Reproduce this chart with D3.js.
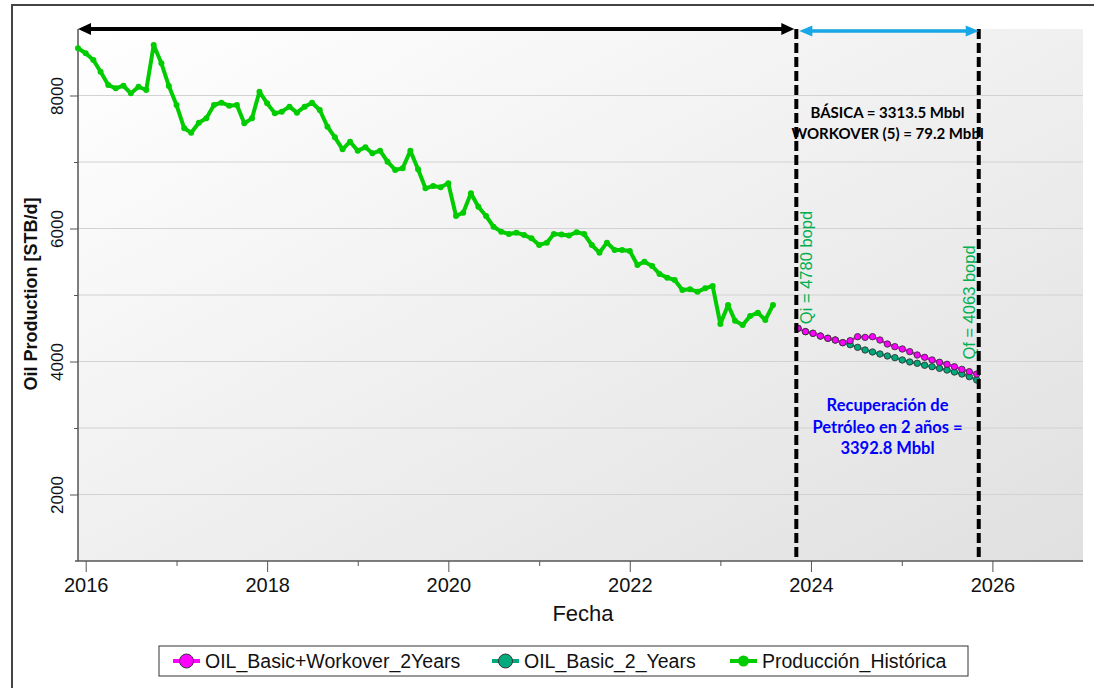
<!DOCTYPE html>
<html><head><meta charset="utf-8">
<script src="https://cdn.jsdelivr.net/npm/d3@7"></script>
<style>
html,body{margin:0;padding:0;background:#fff;}
svg{display:block;font-family:"Liberation Sans",Arial,sans-serif;}
</style></head><body>
<svg id="chart" width="1094" height="688"></svg>
<script>
// ---------- data ----------
const histStart = "2015-12-01";           // first monthly point
const histValues = [
  8710, 8635, 8534, 8358, 8158, 8108, 8147, 8033, 8132, 8083,
  8759, 8484, 8143, 7857, 7507, 7441, 7591, 7657, 7857, 7892,
  7847, 7857, 7581, 7657, 8057, 7882, 7732, 7757, 7832, 7742,
  7832, 7892, 7782, 7531, 7371, 7191, 7306, 7170, 7221, 7130,
  7170, 7005, 6880, 6905, 7170, 6890, 6604, 6639, 6619, 6679,
  6188, 6238, 6529, 6328, 6188, 6027, 5952, 5917, 5937, 5902,
  5852, 5752, 5787, 5917, 5910, 5895, 5945, 5917, 5752, 5637,
  5787, 5677, 5677, 5662, 5451, 5501, 5436, 5316, 5261, 5226,
  5075, 5085, 5050, 5100, 5135, 4564, 4850, 4614, 4549, 4684,
  4734, 4624, 4850
];
const fcStart = "2023-11-10";             // first forecast point (30-day steps)
const fcStepDays = 30;
const periodStart = "2023-11-03";         // dashed marker lines
const periodEnd = "2025-11-07";
const basicWorkover = [
  4499, 4449, 4424, 4383, 4349, 4323, 4283, 4313, 4373, 4363,
  4373, 4323, 4263, 4223, 4188, 4148, 4098, 4063, 4023, 3988,
  3958, 3922, 3882, 3847, 3812
];
const basic = [
  4499, 4449, 4424, 4383, 4349, 4323, 4283, 4253, 4213, 4173,
  4143, 4113, 4083, 4058, 4023, 3993, 3973, 3943, 3922, 3897,
  3872, 3842, 3812, 3772, 3722
];
const xDomain = ["2015-12-01", "2027-01-01"];
const yDomain = [1000, 9000];
const xMajorYears = [2016, 2018, 2020, 2022, 2024, 2026];
const xMinorYears = [2017, 2019, 2021, 2023, 2025];
const yMajorTicks = [2000, 4000, 6000, 8000];
const yMinorTicks = [3000, 5000, 7000];
const gridValues = [2000, 3000, 4000, 5000, 6000, 7000, 8000];
const legendLabels = ["OIL_Basic+Workover_2Years", "OIL_Basic_2_Years", "Producción_Histórica"];
const basicaLines = ["BÁSICA = 3313.5 Mbbl", "WORKOVER (5) = 79.2 Mbbl"];
const recupLines = ["Recuperación de", "Petróleo en 2 años =", "3392.8 Mbbl"];
const qiLabel = "Qi = 4780 bopd";
const qfLabel = "Qf = 4063 bopd";
const yTitle = "Oil Production [STB/d]";
const xTitle = "Fecha";

// ---------- setup ----------
const parse = d3.timeParse("%Y-%m-%d");
const svg = d3.select("#chart");
const L = 78, R = 1083, T = 29, B = 561;
const x = d3.scaleTime().domain(xDomain.map(parse)).range([L, R]);
const y = d3.scaleLinear().domain(yDomain).range([B, T]);

const hist = histValues.map((v, i) => ({d: d3.timeMonth.offset(parse(histStart), i), v}));
const fcBW = basicWorkover.map((v, i) => ({d: d3.timeDay.offset(parse(fcStart), i * fcStepDays), v}));
const fcB = basic.map((v, i) => ({d: d3.timeDay.offset(parse(fcStart), i * fcStepDays), v}));

const COL_HIST = "#00cc00", COL_MAG = "#ff00ff", COL_TEAL = "#00aa7c";

const defs = svg.append("defs");
const grad = defs.append("linearGradient").attr("id", "bg").attr("x1", 0).attr("y1", 0).attr("x2", 1).attr("y2", 1);
grad.append("stop").attr("offset", "0%").attr("stop-color", "#ffffff");
grad.append("stop").attr("offset", "100%").attr("stop-color", "#e0e0e0");

// outer frame
svg.append("path").attr("d", "M12,688V5H1094").attr("fill", "none").attr("stroke", "#444").attr("stroke-width", 2);

// plot background
svg.append("rect").attr("x", L).attr("y", T).attr("width", R - L).attr("height", B - T).attr("fill", "url(#bg)");

// grid
svg.append("g").selectAll("line").data(gridValues).join("line")
  .attr("x1", L).attr("x2", R).attr("y1", d => y(d)).attr("y2", d => y(d))
  .attr("stroke", "#d2d2d2").attr("stroke-width", 1);

// y axis
const yAxisG = svg.append("g").attr("transform", `translate(${L},0)`)
  .call(d3.axisLeft(y).tickValues(yMajorTicks).tickSize(8).tickFormat(d3.format("d")));
yAxisG.select(".domain").remove();
yAxisG.selectAll(".tick line").attr("stroke", "#555");
yAxisG.selectAll(".tick text")
  .attr("transform", "rotate(-90)").attr("x", 0).attr("y", -15).attr("dy", 0)
  .attr("text-anchor", "middle").attr("font-size", 17).attr("fill", "#111")
  .attr("font-family", "'Liberation Sans', Arial, sans-serif");
const yMinorG = svg.append("g").attr("transform", `translate(${L},0)`)
  .call(d3.axisLeft(y).tickValues(yMinorTicks).tickSize(4).tickFormat(""));
yMinorG.select(".domain").remove();
yMinorG.selectAll(".tick line").attr("stroke", "#555");
svg.append("line").attr("x1", L).attr("x2", L).attr("y1", T).attr("y2", B).attr("stroke", "#555").attr("stroke-width", 1.5);

// x axis
const yearDate = yr => new Date(yr, 0, 1);
const xAxisG = svg.append("g").attr("transform", `translate(0,${B})`)
  .call(d3.axisBottom(x).tickValues(xMajorYears.map(yearDate)).tickSize(11).tickFormat(d3.timeFormat("%Y")));
xAxisG.select(".domain").remove();
xAxisG.selectAll(".tick line").attr("stroke", "#555");
xAxisG.selectAll(".tick text").attr("y", 31).attr("dy", 0).attr("font-size", 20).attr("fill", "#111")
  .attr("font-family", "'Liberation Sans', Arial, sans-serif");
const xMinorG = svg.append("g").attr("transform", `translate(0,${B})`)
  .call(d3.axisBottom(x).tickValues(xMinorYears.map(yearDate)).tickSize(5).tickFormat(""));
xMinorG.select(".domain").remove();
xMinorG.selectAll(".tick line").attr("stroke", "#555");
svg.append("line").attr("x1", L - 3).attr("x2", R).attr("y1", B).attr("y2", B).attr("stroke", "#555").attr("stroke-width", 1.5);

// axis titles
svg.append("text").attr("transform", `translate(37,${(195 + 393) / 2}) rotate(-90)`)
  .attr("text-anchor", "middle").attr("font-size", 18).attr("font-weight", "bold").attr("fill", "#111").text(yTitle);
svg.append("text").attr("x", 583).attr("y", 621).attr("text-anchor", "middle")
  .attr("font-size", 22).attr("fill", "#111").text(xTitle);

// lines
const line = d3.line().x(d => x(d.d)).y(d => y(d.v));
svg.append("path").datum(hist).attr("d", line).attr("fill", "none")
  .attr("stroke", COL_HIST).attr("stroke-width", 4).attr("stroke-linejoin", "round");
svg.append("g").selectAll("circle").data(hist).join("circle")
  .attr("cx", d => x(d.d)).attr("cy", d => y(d.v)).attr("r", 3).attr("fill", COL_HIST);

svg.append("path").datum(fcB).attr("d", line).attr("fill", "none").attr("stroke", COL_TEAL).attr("stroke-width", 2.5);
svg.append("g").selectAll("circle").data(fcB).join("circle")
  .attr("cx", d => x(d.d)).attr("cy", d => y(d.v)).attr("r", 3.2)
  .attr("fill", COL_TEAL).attr("stroke", "#333").attr("stroke-width", 0.9);
svg.append("path").datum(fcBW).attr("d", line).attr("fill", "none").attr("stroke", COL_MAG).attr("stroke-width", 2.5);
svg.append("g").selectAll("circle").data(fcBW).join("circle")
  .attr("cx", d => x(d.d)).attr("cy", d => y(d.v)).attr("r", 3.2)
  .attr("fill", COL_MAG).attr("stroke", "#333").attr("stroke-width", 0.9);

// annotations
const xs = x(parse(periodStart)), xe = x(parse(periodEnd));
const cx = (xs + xe) / 2;
svg.append("g").selectAll("text").data(basicaLines).join("text")
  .attr("x", cx).attr("y", (d, i) => 118 + i * 21).attr("text-anchor", "middle")
  .attr("font-family", "Lato, 'Liberation Sans', sans-serif").attr("font-weight", "bold")
  .attr("font-size", 15).attr("fill", "#000").text(d => d);
svg.append("g").selectAll("text").data(recupLines).join("text")
  .attr("x", cx).attr("y", (d, i) => 411 + i * 21.7).attr("text-anchor", "middle")
  .attr("font-family", "Lato, 'Liberation Sans', sans-serif").attr("font-weight", "bold")
  .attr("font-size", 16.5).attr("fill", "#0000ff").text(d => d);
svg.append("text").attr("transform", `translate(${xs + 16},267.5) rotate(-90)`).attr("text-anchor", "middle")
  .attr("font-size", 16.5).attr("fill", "#00b050").text(qiLabel);
svg.append("text").attr("transform", `translate(${xe - 4},302.5) rotate(-90)`).attr("text-anchor", "middle")
  .attr("font-size", 16.5).attr("fill", "#00b050").text(qfLabel);

// dashed verticals
svg.append("g").selectAll("line").data([periodStart, periodEnd]).join("line")
  .attr("x1", d => x(parse(d))).attr("x2", d => x(parse(d))).attr("y1", T).attr("y2", B)
  .attr("stroke", "#000").attr("stroke-width", 4).attr("stroke-dasharray", "10,4");

// arrows
function arrow(x1, x2, yy, col, w, hl, hw) {
  const g = svg.append("g");
  g.append("line").attr("x1", x1 + hl - 1).attr("x2", x2 - hl + 1).attr("y1", yy).attr("y2", yy)
    .attr("stroke", col).attr("stroke-width", w);
  g.append("path").attr("d", `M${x1},${yy}L${x1 + hl},${yy - hw}L${x1 + hl},${yy + hw}Z`).attr("fill", col);
  g.append("path").attr("d", `M${x2},${yy}L${x2 - hl},${yy - hw}L${x2 - hl},${yy + hw}Z`).attr("fill", col);
}
arrow(L, xs - 2, T, "#000", 4, 13, 6);
arrow(xs + 3, xe, T + 2, "#17a6e6", 3.5, 13, 5.5);

// legend
const lg = svg.append("g");
lg.append("rect").attr("x", 159).attr("y", 646).attr("width", 809).attr("height", 30)
  .attr("fill", "#fff").attr("stroke", "#333").attr("stroke-width", 1);
const legItems = [
  {label: legendLabels[0], col: COL_MAG, x0: 173, stroke: "#333", r: 7},
  {label: legendLabels[1], col: COL_TEAL, x0: 492, stroke: "#333", r: 7},
  {label: legendLabels[2], col: COL_HIST, x0: 730, stroke: "none", r: 5.5}
];
legItems.forEach(it => {
  lg.append("line").attr("x1", it.x0).attr("x2", it.x0 + 27).attr("y1", 661).attr("y2", 661)
    .attr("stroke", it.col).attr("stroke-width", 4);
  lg.append("circle").attr("cx", it.x0 + 13.5).attr("cy", 661).attr("r", it.r)
    .attr("fill", it.col).attr("stroke", it.stroke).attr("stroke-width", 1);
  lg.append("text").attr("x", it.x0 + 32).attr("y", 668).attr("font-size", 19.5).attr("fill", "#111").text(it.label);
});
</script>
</body></html>
